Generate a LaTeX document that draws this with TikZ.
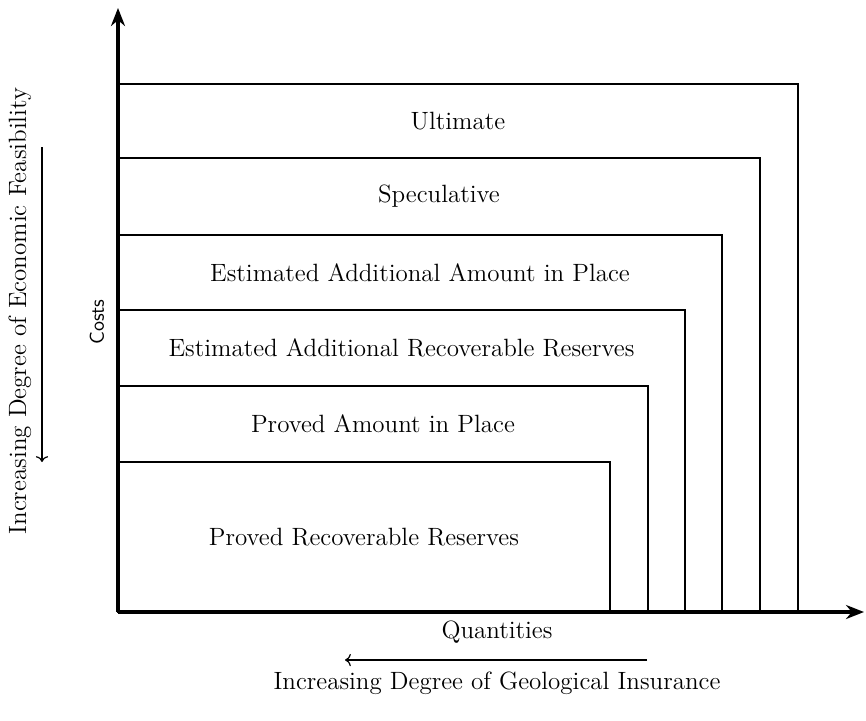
\documentclass[tikz,border=0pt]{standalone}
\usepackage{tikz}
\usetikzlibrary{arrows.meta, positioning}

\begin{document}
\begin{tikzpicture}[
    font=\fontsize{12.5}{15}\selectfont,
    x=0.5pt,
    y=0.5pt,
    axis/.style={line width=2pt, -{Stealth[length=9pt, width=7pt]}},
    band/.style={line width=1.3pt},
    hint/.style={semithick, ->},
    bandtext/.style={align=center, inner sep=0pt}
]
\useasboundingbox (-118,-108) rectangle (748,612);
\coordinate (origin) at (0,0);
\coordinate (ytop) at (0,604);
\coordinate (xend) at (746,0);
\foreach \name/\r/\t/\b/\txt in {
    prr/492/150/0/Proved Recoverable Reserves,
    pap/530/226/150/Proved Amount in Place,
    earr/567/302/226/Estimated Additional Recoverable Reserves,
    eaap/604/377/302/Estimated Additional Amount in Place,
    spec/642/454/377/Speculative,
    ult/680/528/454/Ultimate} {
  \draw[band] (origin) rectangle (\r,\t);
  \node[bandtext] (\name) at ({\r/2}, {(\t+\b)/2}) {\txt};
}
\draw[axis] (origin) -- (ytop);
\draw[axis] (origin) -- (xend);
\node[rotate=90, font=\sffamily] (costs) at (-21,290) {Costs};
\node (quant) at (379,-20) {Quantities};
\coordinate (geostart) at (529,-48);
\coordinate (geoend) at (227,-48);
\draw[hint] (geostart) -- (geoend);
\node (geo) at (379,-71) {Increasing Degree of Geological Insurance};
\coordinate (ecostart) at (-76,465);
\coordinate (ecoend) at (-76,150);
\draw[hint] (ecostart) -- (ecoend);
\node[rotate=90] (eco) at (-98,301) {Increasing Degree of Economic Feasibility};
\end{tikzpicture}
\end{document}
